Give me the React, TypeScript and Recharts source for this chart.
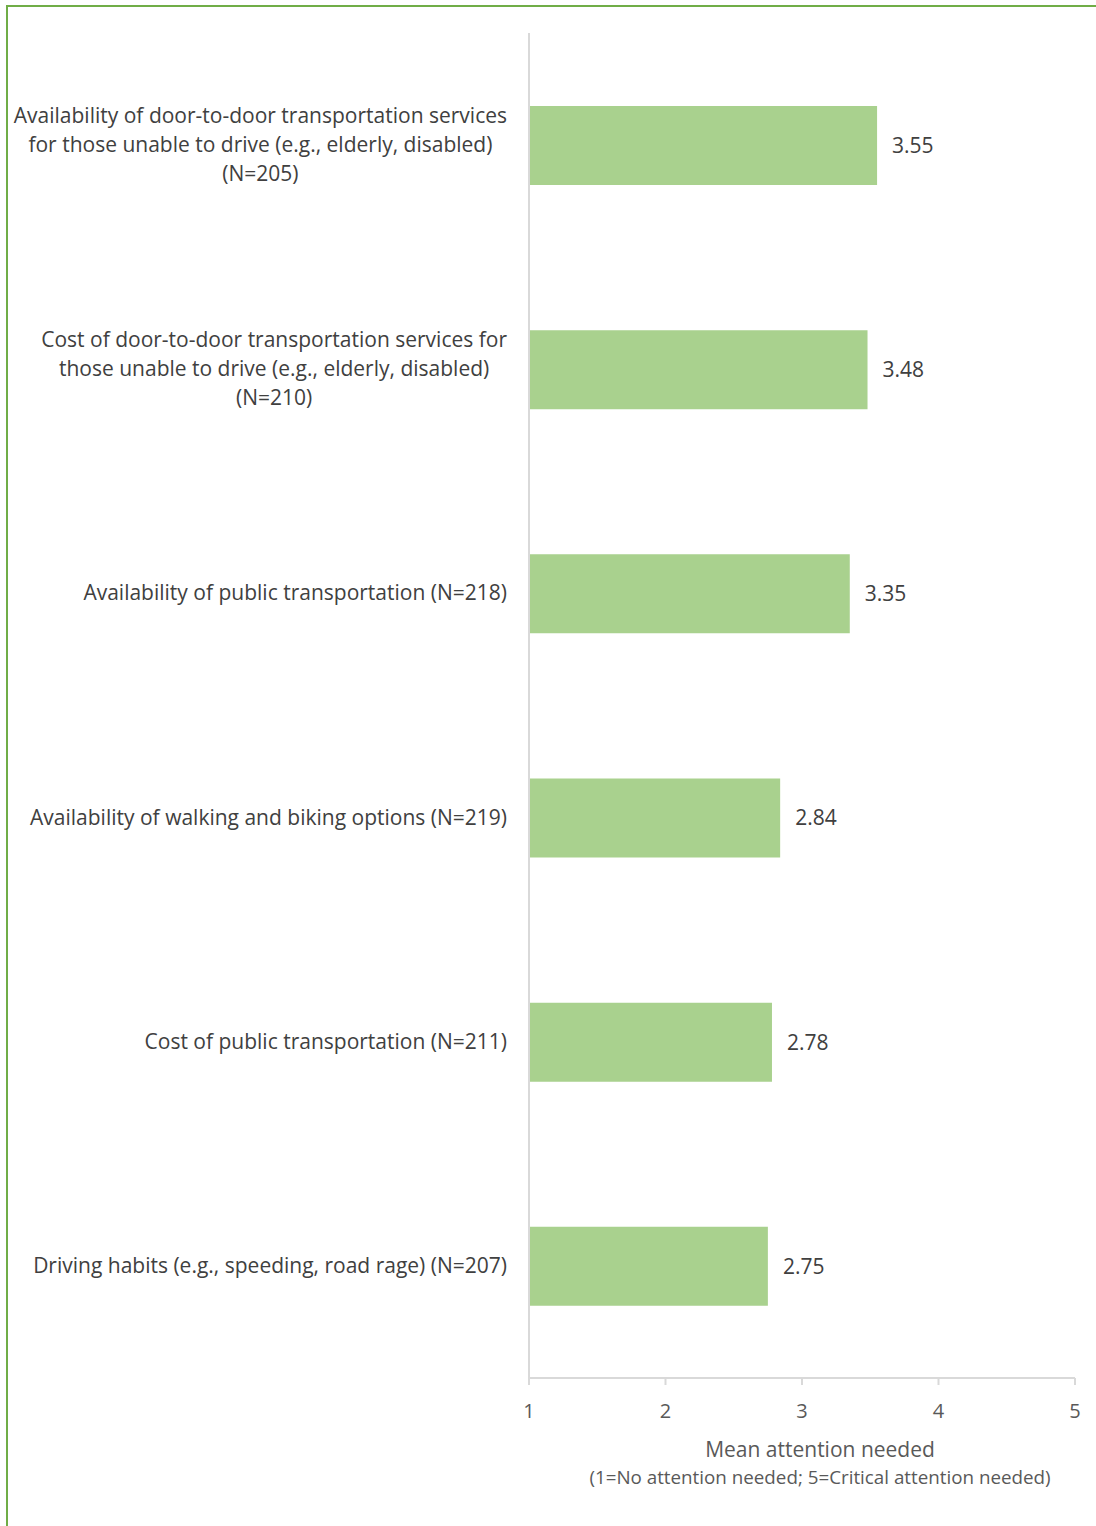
import { Bar, BarChart, LabelList, XAxis, YAxis } from "recharts";

const categories = [
  "Availability of door-to-door transportation services\nfor those unable to drive (e.g., elderly, disabled)\n(N=205)",
  "Cost of door-to-door transportation services for\nthose unable to drive (e.g., elderly, disabled)\n(N=210)",
  "Availability of public transportation (N=218)",
  "Availability of walking and biking options (N=219)",
  "Cost of public transportation (N=211)",
  "Driving habits (e.g., speeding, road rage) (N=207)",
];
const means = [3.55, 3.48, 3.35, 2.84, 2.78, 2.75];
const xTicks = [1, 2, 3, 4, 5];

const data = categories.map((name, i) => ({ name, mean: means[i] }));

const FONT = "'Open Sans', sans-serif";
const CAT_SIZE = 21;

let ctx: CanvasRenderingContext2D | null = null;
function textWidth(s: string, size: number) {
  if (!ctx) ctx = document.createElement("canvas").getContext("2d");
  if (!ctx) return s.length * size * 0.5;
  ctx.font = `${size}px 'Open Sans'`;
  return ctx.measureText(s).width;
}

function CategoryTick(props: any) {
  const { x, y, payload } = props;
  const lines = String(payload.value).split("\n");
  const lh = 29;
  const start = -((lines.length - 1) * lh) / 2;
  const right = x - 14;
  const multi = lines.length > 1;
  const widest = Math.max(...lines.map((l) => textWidth(l, CAT_SIZE)));
  const ax = multi ? right - widest / 2 : right;
  return (
    <text
      x={ax}
      y={y}
      textAnchor={multi ? "middle" : "end"}
      fill="#404040"
      fontSize={CAT_SIZE}
      fontFamily={FONT}
    >
      {lines.map((ln, i) => (
        <tspan key={i} x={ax} dy={i === 0 ? start + 7 : lh}>
          {ln}
        </tspan>
      ))}
    </text>
  );
}

function AxisTitle(props: any) {
  const { viewBox } = props;
  const cx = viewBox.x + viewBox.width / 2 + 18;
  return (
    <g fontFamily={FONT}>
      <text x={cx} y={1457} textAnchor="middle" fill="#595959" fontSize={21}>
        Mean attention needed
      </text>
      <text x={cx} y={1484} textAnchor="middle" fill="#595959" fontSize={18.8}>
        (1=No attention needed; 5=Critical attention needed)
      </text>
    </g>
  );
}

export default function App() {
  return (
    <div style={{ position: "absolute", left: 0, top: 0, width: 1096, height: 1526, background: "#fff" }}>
      <div
        style={{
          position: "absolute",
          left: 6,
          top: 5,
          width: 1100,
          height: 1530,
          border: "2px solid #70AD47",
          boxSizing: "border-box",
        }}
      />
      <div style={{ position: "absolute", left: 0, top: 0 }}>
        <BarChart
          width={1096}
          height={1526}
          data={data}
          layout="vertical"
          margin={{ top: 33, right: 21, bottom: 0, left: 0 }}
          barCategoryGap={0}
        >
          <XAxis
            type="number"
            domain={[1, 5]}
            ticks={xTicks}
            height={148}
            axisLine={{ stroke: "#D9D9D9", strokeWidth: 2 }}
            tickLine={{ stroke: "#D9D9D9", strokeWidth: 2 }}
            tickSize={7}
            tick={{ fill: "#595959", fontSize: 20, fontFamily: FONT, dy: 17 }}
            label={<AxisTitle />}
          />
          <YAxis
            type="category"
            dataKey="name"
            width={529}
            axisLine={{ stroke: "#D9D9D9", strokeWidth: 2 }}
            tickLine={false}
            tick={<CategoryTick />}
            interval={0}
          />
          <Bar dataKey="mean" fill="#A9D18E" barSize={79} isAnimationActive={false}>
            <LabelList
              dataKey="mean"
              position="right"
              offset={15}
              formatter={(v: any) => Number(v).toFixed(2)}
              style={{ fill: "#404040", fontSize: 21, fontFamily: FONT }}
            />
          </Bar>
        </BarChart>
      </div>
    </div>
  );
}
